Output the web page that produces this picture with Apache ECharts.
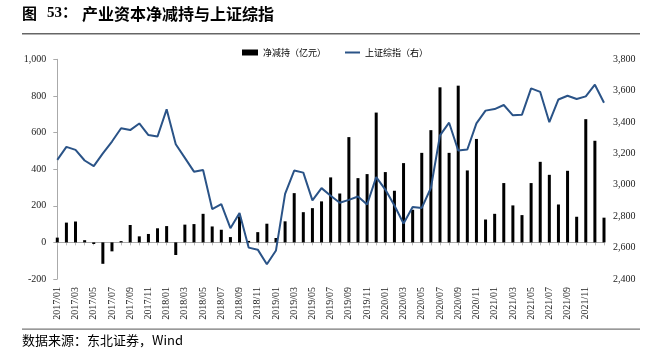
<!DOCTYPE html>
<html><head><meta charset="utf-8">
<script src="https://cdn.jsdelivr.net/npm/echarts@6/dist/echarts.min.js"></script>
<style>html,body{margin:0;padding:0;background:#fff}#c{width:653px;height:361px}</style>
</head><body><div id="c"></div>
<script>
const categories = [
 "2017/01","2017/02","2017/03","2017/04","2017/05","2017/06","2017/07","2017/08","2017/09","2017/10","2017/11","2017/12",
 "2018/01","2018/02","2018/03","2018/04","2018/05","2018/06","2018/07","2018/08","2018/09","2018/10","2018/11","2018/12",
 "2019/01","2019/02","2019/03","2019/04","2019/05","2019/06","2019/07","2019/08","2019/09","2019/10","2019/11","2019/12",
 "2020/01","2020/02","2020/03","2020/04","2020/05","2020/06","2020/07","2020/08","2020/09","2020/10","2020/11","2020/12",
 "2021/01","2021/02","2021/03","2021/04","2021/05","2021/06","2021/07","2021/08","2021/09","2021/10","2021/11","2021/12",
 "2022/01"];
const netReduction = [
 26,108,114,12,-9,-117,-49,7,95,33,46,77,
 89,-69,97,100,156,87,69,29,142,8,56,102,
 24,115,269,165,187,224,355,267,575,351,373,709,
 384,282,433,178,489,613,847,489,856,393,565,125,
 156,324,202,149,324,440,369,207,391,140,673,555,
 135];
const shIndex = [
 3159,3242,3223,3155,3119,3200,3276,3361,3349,3391,3317,3308,
 3481,3259,3172,3084,3095,2846,2877,2724,2821,2600,2587,2494,
 2582,2942,3091,3078,2901,2979,2931,2886,2904,2926,2875,3049,
 2970,2868,2754,2859,2853,2980,3315,3396,3219,3225,3392,3473,
 3483,3509,3443,3447,3615,3592,3399,3544,3568,3547,3564,3638,
 3523];
const leftTicks = {min:-200, max:1000, interval:200};
const rightTicks = {min:2400, max:3800, interval:200};

const chart = echarts.init(document.getElementById('c'), null, {renderer:'canvas'});
const serif = 'Liberation Serif, Times New Roman, serif';
const cjk = 'Noto Sans CJK SC';
const fmt = v => v.toLocaleString('en-US');
chart.setOption({
  animation:false,
  backgroundColor:'#fff',
  graphic:[
    {type:'text', left:22, top:6, style:{text:'图', font:'bold 15px "Noto Sans CJK SC"', fill:'#000'}},
    {type:'text', left:47, top:6, style:{text:'53：', font:'bold 15px "Liberation Serif", "Noto Sans CJK SC"', fill:'#000'}},
    {type:'text', left:82, top:6, style:{text:'产业资本净减持与上证综指', font:'bold 16px "Noto Sans CJK SC"', fill:'#000'}},
    {type:'rect', shape:{x:22, y:33, width:618, height:1.5}, style:{fill:'#666'}},
    {type:'rect', shape:{x:22, y:328.5, width:618, height:1.2}, style:{fill:'#777'}},
    {type:'text', left:22, top:334, style:{text:'数据来源：东北证券，Wind', font:'13px "Noto Sans CJK SC"', fill:'#000'}}
  ],
  legend:[{
    left:237, top:43, itemWidth:16, itemHeight:6,
    textStyle:{fontFamily:cjk, fontSize:9, color:'#000'},
    data:[{name:'净减持（亿元）', icon:'rect'}]
  },{
    left:340, top:43, itemWidth:15, itemHeight:2,
    textStyle:{fontFamily:cjk, fontSize:9, color:'#000'},
    data:[{name:'上证综指（右）', icon:'rect'}]
  }],
  grid:{left:57.3, right:49, top:59.3, bottom:82, containLabel:false},
  xAxis:[{
    type:'category', data:categories, boundaryGap:false,
    axisLine:{show:false, onZero:false}, axisTick:{show:false}, splitLine:{show:false},
    axisLabel:{rotate:90, margin:8, fontFamily:serif, fontSize:10, color:'#222',
      interval:(i)=> i%2===0 && i<60}
  },{
    type:'category', data:categories, boundaryGap:false, position:'bottom',
    axisLine:{show:true, onZero:true, onZeroAxisIndex:0, lineStyle:{color:'#aaa', width:1}},
    axisTick:{show:true, interval:0, length:3, lineStyle:{color:'#bbb'}},
    axisLabel:{show:false}, splitLine:{show:false}
  }],
  yAxis:[{
    type:'value', min:leftTicks.min, max:leftTicks.max, interval:leftTicks.interval,
    axisLine:{show:true, lineStyle:{color:'#aaa'}},
    axisTick:{show:true, length:4, lineStyle:{color:'#aaa'}},
    splitLine:{show:false},
    axisLabel:{margin:11, fontFamily:serif, fontSize:10, color:'#222', formatter:fmt}
  },{
    type:'value', min:rightTicks.min, max:rightTicks.max, interval:rightTicks.interval,
    axisLine:{show:false}, axisTick:{show:false}, splitLine:{show:false},
    axisLabel:{margin:9, fontFamily:serif, fontSize:10, color:'#222', formatter:fmt}
  }],
  series:[{
    name:'净减持（亿元）', type:'bar', data:netReduction, xAxisIndex:0, yAxisIndex:0,
    barWidth:3, clip:false, itemStyle:{color:'#000'}
  },{
    name:'上证综指（右）', type:'line', data:shIndex, xAxisIndex:0, yAxisIndex:1,
    symbol:'none', showSymbol:false, lineStyle:{color:'#2a5387', width:2}, itemStyle:{color:'#2a5387'}
  }]
});
</script></body></html>
